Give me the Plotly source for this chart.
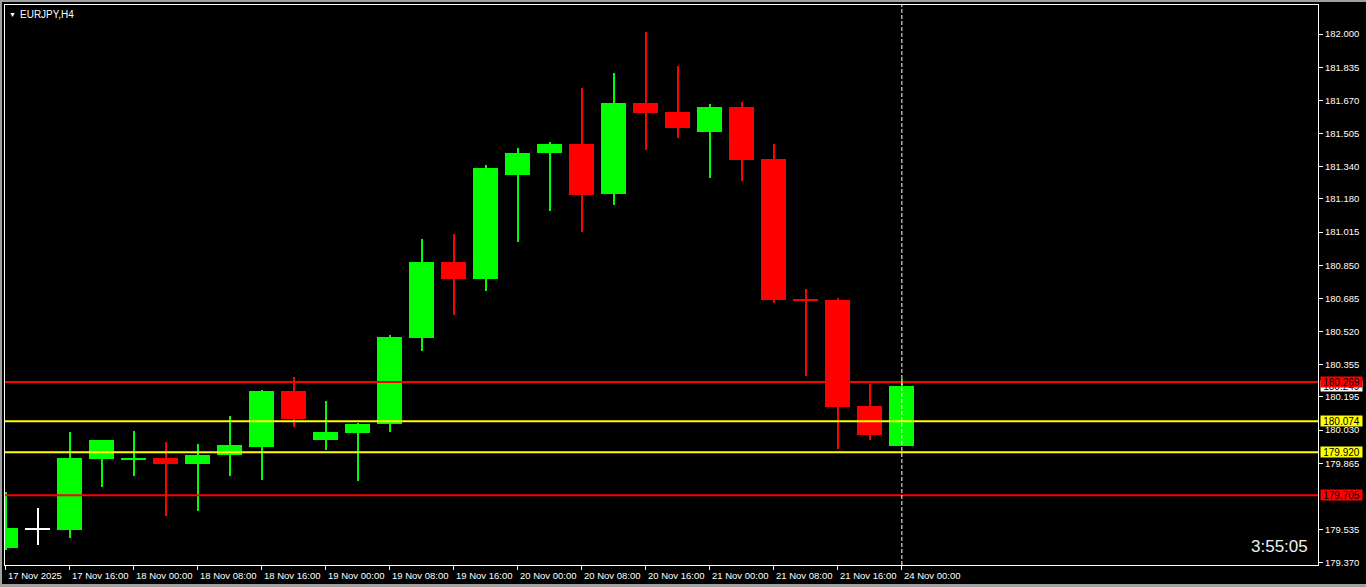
import plotly.graph_objects as go

# ---- data (EURJPY H4) ----
bar_index = list(range(29))
opens  = [179.444, 179.536, 179.532, 179.886, 179.881, 179.891, 179.861, 179.905, 179.945, 180.224,
          179.980, 180.015, 180.060, 180.489, 180.866, 180.781, 181.299, 181.408, 181.453, 181.204,
          181.657, 181.612, 181.512, 181.637, 181.378, 180.680, 180.677, 180.149, 179.950]
highs  = [179.721, 179.642, 180.020, 179.980, 180.025, 179.970, 179.960, 180.100, 180.229, 180.295,
          180.174, 180.065, 180.502, 180.980, 181.005, 181.348, 181.433, 181.463, 181.731, 181.806,
          182.010, 181.841, 181.652, 181.662, 181.453, 180.731, 180.687, 180.259, 180.282]
lows   = [179.433, 179.459, 179.494, 179.746, 179.801, 179.604, 179.627, 179.801, 179.781, 180.045,
          179.930, 179.776, 180.020, 180.423, 180.602, 180.721, 180.965, 181.119, 181.015, 181.149,
          181.423, 181.483, 181.284, 181.269, 180.663, 180.300, 179.937, 179.980, 179.950]
closes = [179.542, 179.536, 179.891, 179.980, 179.891, 179.861, 179.905, 179.955, 180.224, 180.085,
          180.020, 180.060, 180.493, 180.866, 180.781, 181.333, 181.408, 181.453, 181.199, 181.657,
          181.607, 181.532, 181.637, 181.373, 180.677, 180.675, 180.146, 180.005, 180.249]

x_tick_pos = [0, 2, 4, 6, 8, 10, 12, 14, 16, 18, 20, 22, 24, 26, 28]
x_tick_text = ["17 Nov 2025", "17 Nov 16:00", "18 Nov 00:00", "18 Nov 08:00", "18 Nov 16:00",
               "19 Nov 00:00", "19 Nov 08:00", "19 Nov 16:00", "20 Nov 00:00", "20 Nov 08:00",
               "20 Nov 16:00", "21 Nov 00:00", "21 Nov 08:00", "21 Nov 16:00", "24 Nov 00:00"]

y_tick_vals = [182.000, 181.835, 181.670, 181.505, 181.340, 181.180, 181.015, 180.850, 180.685,
               180.520, 180.355, 180.195, 180.030, 179.865, 179.535, 179.370]
y_tick_text = ["182.000", "181.835", "181.670", "181.505", "181.340", "181.180", "181.015", "180.850",
               "180.685", "180.520", "180.355", "180.195", "180.030", "179.865", "179.535", "179.370"]

level_values = [180.269, 180.074, 179.920, 179.705]
level_colors = ["#FF0000", "#FFFF00", "#FFFF00", "#FF0000"]
current_price = 180.249
timer_text = "3:55:05"
title_text = "EURJPY,H4"
separator_bar = 28

UP = "#00FF00"
DOWN = "#FF0000"
DOJI = "#FFFFFF"

colors = []
for o, c in zip(opens, closes):
    if c > o:
        colors.append(UP)
    elif c < o:
        colors.append(DOWN)
    else:
        colors.append(DOJI)

body_base = [min(o, c) for o, c in zip(opens, closes)]
body_h = [max(abs(c - o), 0.006) for o, c in zip(opens, closes)]
wick_base = lows
wick_h = [h - l for h, l in zip(highs, lows)]

fig = go.Figure()
fig.add_trace(go.Bar(x=bar_index, y=wick_h, base=wick_base, width=1 / 32,
                     marker=dict(color=colors, line=dict(width=0)), hoverinfo="skip"))
fig.add_trace(go.Bar(x=bar_index, y=body_h, base=body_base, width=25 / 32,
                     marker=dict(color=colors, line=dict(width=0)), hoverinfo="skip"))

shapes = []
for v, col in zip(level_values, level_colors):
    shapes.append(dict(type="line", xref="paper", yref="y", x0=0, x1=1, y0=v, y1=v,
                       line=dict(color=col, width=2)))
shapes.append(dict(type="line", xref="x", yref="paper", x0=separator_bar, x1=separator_bar,
                   y0=0, y1=1, line=dict(color="#FFFFFF", width=1, dash="4px,2px")))
# window frame hints
shapes.append(dict(type="rect", xref="paper", yref="paper", x0=-5 / 1313, x1=1 + 48 / 1313,
                   y0=1 + 3 / 560, y1=1 + 5 / 560, fillcolor="#A0A0A0", line=dict(width=0)))
shapes.append(dict(type="rect", xref="paper", yref="paper", x0=-5 / 1313, x1=-3 / 1313,
                   y0=-22 / 560, y1=1 + 5 / 560, fillcolor="#A0A0A0", line=dict(width=0)))
shapes.append(dict(type="rect", xref="paper", yref="paper", x0=-5 / 1313, x1=1 + 48 / 1313,
                   y0=-22 / 560, y1=-19 / 560, fillcolor="#A0A0A0", line=dict(width=0)))

FONT = "Liberation Sans, Arial, sans-serif"
annotations = []
# current price (white) box first, partially covered by the red level box
annotations.append(dict(xref="paper", yref="y", x=1, y=current_price, xanchor="left", yanchor="middle",
                        xshift=2, text=f"{current_price:.3f}", showarrow=False, width=41, height=10,
                        bgcolor="#FFFFFF", font=dict(family=FONT, size=10, color="#000000"),
                        borderpad=0))
for v, col in zip(level_values, level_colors):
    annotations.append(dict(xref="paper", yref="y", x=1, y=v, xanchor="left", yanchor="middle",
                            xshift=2, text=f"{v:.3f}", showarrow=False, bgcolor=col, width=41, height=10,
                            font=dict(family=FONT, size=10, color="#000000"), borderpad=0))
for xv, t in zip(x_tick_pos, x_tick_text):
    annotations.append(dict(xref="x", yref="paper", x=xv, y=0, xanchor="left", yanchor="top",
                            xshift=0, yshift=-3, text=t, showarrow=False,
                            font=dict(family=FONT, size=9.5, color="#FFFFFF")))
annotations.append(dict(xref="paper", yref="paper", x=0, y=1, xanchor="left", yanchor="top",
                        xshift=2, yshift=-4, text="▼", showarrow=False,
                        font=dict(family=FONT, size=7, color="#FFFFFF")))
annotations.append(dict(xref="paper", yref="paper", x=0, y=1, xanchor="left", yanchor="top",
                        xshift=13, yshift=-2, text=title_text, showarrow=False,
                        font=dict(family=FONT, size=10, color="#FFFFFF")))
annotations.append(dict(xref="paper", yref="paper", x=1, y=19 / 560, xanchor="right", yanchor="middle",
                        xshift=-8, text=timer_text, showarrow=False,
                        font=dict(family=FONT, size=17, color="#F0F0F0")))

fig.update_layout(
    width=1366, height=587,
    margin=dict(l=5, r=48, t=5, b=22),
    paper_bgcolor="#000000", plot_bgcolor="#000000",
    barmode="overlay", bargap=0, showlegend=False,
    shapes=shapes, annotations=annotations,
    xaxis=dict(range=[-0.016, 41.0], showgrid=False, zeroline=False,
               showline=True, linecolor="#FFFFFF", linewidth=1, mirror=True,
               tickmode="array", tickvals=x_tick_pos, ticks="outside", ticklen=4,
               tickcolor="#FFFFFF", showticklabels=False, fixedrange=True),
    yaxis=dict(range=[179.3585, 182.1443], side="right", showgrid=False, zeroline=False,
               showline=True, linecolor="#FFFFFF", linewidth=1, mirror=True,
               tickmode="array", tickvals=y_tick_vals, ticktext=y_tick_text,
               ticks="outside", ticklen=4, tickcolor="#FFFFFF",
               tickfont=dict(family=FONT, size=9.5, color="#FFFFFF"), fixedrange=True),
)

fig.write_html("out.html", config={"displayModeBar": False},
               post_script="document.body.style.margin='0';document.body.style.overflow='hidden';document.body.style.background='#000';")
